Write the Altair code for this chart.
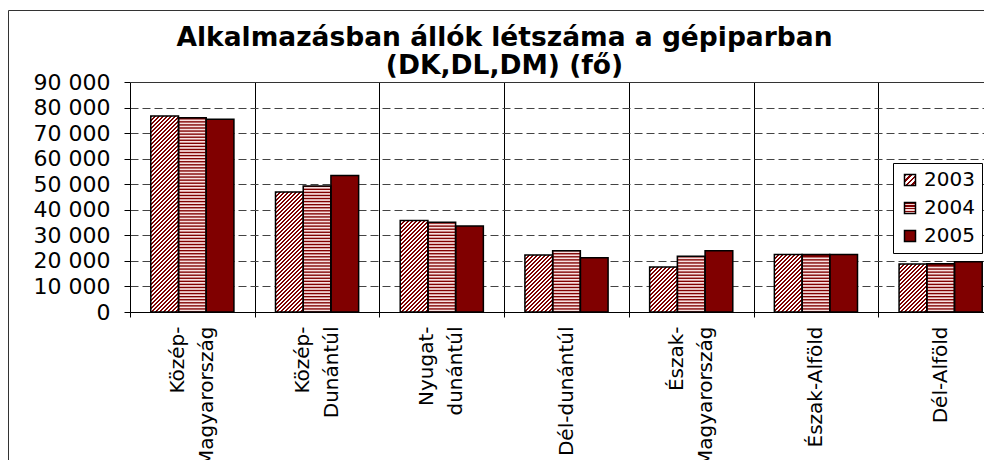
import altair as alt
import pandas as pd

# ---- data ----
regions = ["Közép-\nMagyarország", "Közép-\nDunántúl", "Nyugat-\ndunántúl", "Dél-dunántúl",
           "Észak-\nMagyarország", "Észak-Alföld", "Dél-Alföld"]
years = ["2003", "2004", "2005"]
v2003 = [76700, 47000, 35800, 22300, 17600, 22500, 18800]
v2004 = [76000, 49300, 35100, 24000, 21800, 22500, 18900]
v2005 = [75400, 53400, 33700, 21200, 24000, 22500, 19700]
y_ticks = [0, 10000, 20000, 30000, 40000, 50000, 60000, 70000, 80000, 90000]
title_lines = ["Alkalmazásban állók létszáma a gépiparban", "(DK,DL,DM) (fő)"]

rows = []
for yr, vals in zip(years, [v2003, v2004, v2005]):
    for r, v in zip(regions, vals):
        rows.append({"region": r, "year": yr, "value": v})
df = pd.DataFrame(rows)

# ---- layout / style ----
PLOT_W, PLOT_H = 873, 230
Y_MAX = 90000
STEP = PLOT_W / len(regions)
OFF_PAD_OUTER = 0.75
BAR_W = STEP / (3 + 2 * OFF_PAD_OUTER)
DARK = "#800000"
FONT = "DejaVu Sans"
STRIPE_STEP = 1200   # y-units between the light horizontal stripes (~3 px)


def stripes(n, frac, dark=DARK, light="#ffffff"):
    out = []
    for i in range(n):
        a = round(i / n, 5)
        b = round((i + frac) / n, 5)
        c = round((i + 1) / n, 5)
        out += [{"offset": a, "color": dark}, {"offset": b, "color": dark},
                {"offset": b, "color": light}, {"offset": c, "color": light}]
    return out


D_D = 240   # px (x+y) covered by the diagonal gradient (period 4px)
d_stops = alt.param(name="dStops", value=stripes(60, 0.5))
lh_stops = alt.param(name="lhStops", value=stripes(4, 0.5, light="#f6d8d8"))
ld_stops = alt.param(name="ldStops", value=stripes(4, 0.5))

h = f"(datum.value*{PLOT_H / Y_MAX:.8f})"
w = f"{BAR_W:.4f}"
bar_fill = (
    f"datum.year == '2003' ? "
    f"{{gradient:'linear', x1:0, y1:0, x2:{D_D}*{w}/({w}*{w}+{h}*{h}), "
    f"y2:{D_D}*{h}/({w}*{w}+{h}*{h}), stops:dStops}} : '{DARK}'"
)
leg2003 = "{gradient:'linear', x1:0, y1:0, x2:1, y2:1, stops:ldStops}"
leg2004 = "{gradient:'linear', x1:0, y1:0, x2:0, y2:1, stops:lhStops}"

x_enc = alt.X(
    "region:N", sort=regions,
    scale=alt.Scale(paddingInner=0, paddingOuter=0),
    axis=alt.Axis(
        title=None, labelAngle=-90, labelAlign="right", labelBaseline="middle",
        labelExpr="split(datum.label, '\\n')", labelFont=FONT, labelFontSize=20,
        labelLineHeight=29, labelColor="black", labelPadding=9, labelLimit=400,
        labelOffset={"condition": {"test": "indexof('' + datum.label, '\\n') >= 0",
                                   "value": -15},
                     "value": 0},
        tickSize=5, tickColor="black", tickBand="extent", domainColor="black",
        grid=True, gridColor="black", gridWidth=1,
    ),
)
xo_enc = alt.XOffset("year:N", sort=years,
                     scale=alt.Scale(domain=years, paddingInner=0, paddingOuter=OFF_PAD_OUTER))
y_scale = alt.Scale(domain=[0, Y_MAX], nice=False)
y_axis = alt.Axis(
    title=None, values=y_ticks,
    labelExpr="replace(format(datum.value, ','), ',', ' ')",
    labelFont=FONT, labelFontSize=22, labelColor="black", labelPadding=14,
    tickSize=6, tickColor="black", domainColor="black",
    grid=True, gridColor="#444444", gridDash=[8, 4], gridWidth=1,
)
y_enc = alt.Y("value:Q", scale=y_scale, axis=y_axis)

base_bars = alt.Chart(df).mark_bar().encode(
    x=x_enc, xOffset=xo_enc, y=y_enc,
    fill=alt.Fill(
        "year:N", sort=years,
        scale=alt.Scale(domain=years, range=[{"expr": leg2003}, {"expr": leg2004}, DARK]),
        legend=alt.Legend(
            title=None, orient="none", legendX=763, legendY=81,
            fillColor="white", strokeColor="black", padding=7, cornerRadius=0,
            symbolType="square", symbolSize=121, symbolStrokeColor="black",
            symbolStrokeWidth=1.5, symbolOpacity=1,
            labelFont=FONT, labelFontSize=20, labelColor="black", labelOffset=4,
            rowPadding=8, labelLimit=200,
        ),
    ),
)

fill_bars = alt.Chart(df).mark_bar().encode(
    x=x_enc, xOffset=xo_enc, y=y_enc,
    fill={"value": {"expr": bar_fill}},
)

# light horizontal stripes over the 2004 bars
stripes_2004 = alt.Chart(df).transform_filter(
    alt.datum.year == "2004"
).transform_calculate(
    k=f"sequence({STRIPE_STEP / 2}, datum.value - {STRIPE_STEP / 4}, {STRIPE_STEP})"
).transform_flatten(["k"]).mark_tick(
    orient="horizontal", color="#f8e0e0", opacity=1, thickness=1.7, size=BAR_W - 1.5
).encode(
    x=x_enc, xOffset=xo_enc, y=alt.Y("k:Q", scale=y_scale, axis=y_axis),
)

outline_bars = alt.Chart(df).mark_bar(
    fillOpacity=0, stroke="black", strokeWidth=1.5, strokeOpacity=1
).encode(x=x_enc, xOffset=xo_enc, y=y_enc)

one = pd.DataFrame({"k": [0]})
frame_left = alt.Chart(one).mark_rule(color="#333333", strokeWidth=1).encode(
    x=alt.value(-121.5), y=alt.value(-71.5), y2=alt.value(600))
frame_top = alt.Chart(one).mark_rule(color="#333333", strokeWidth=1).encode(
    x=alt.value(-121.5), x2=alt.value(1100), y=alt.value(-71.5))
plot_top = alt.Chart(one).mark_rule(color="#333333", strokeWidth=1).encode(
    x=alt.value(0), x2=alt.value(PLOT_W), y=alt.value(0.5))

chart = alt.layer(
    base_bars, fill_bars, stripes_2004, outline_bars, frame_left, frame_top, plot_top
).add_params(
    d_stops, lh_stops, ld_stops
).properties(
    width=PLOT_W, height=PLOT_H,
    title=alt.TitleParams(
        text=title_lines, font=FONT, fontSize=26.5, fontWeight="bold", color="black",
        anchor="middle", dx=-62, dy=71, offset=2, lineHeight=28,
    ),
    autosize=alt.AutoSizeParams(type="none"),
    padding={"left": 122, "top": 74, "right": -19, "bottom": 148},
    background="white",
).configure_view(stroke=None)

chart.save("out.html", embed_options={"renderer": "svg", "actions": False})
